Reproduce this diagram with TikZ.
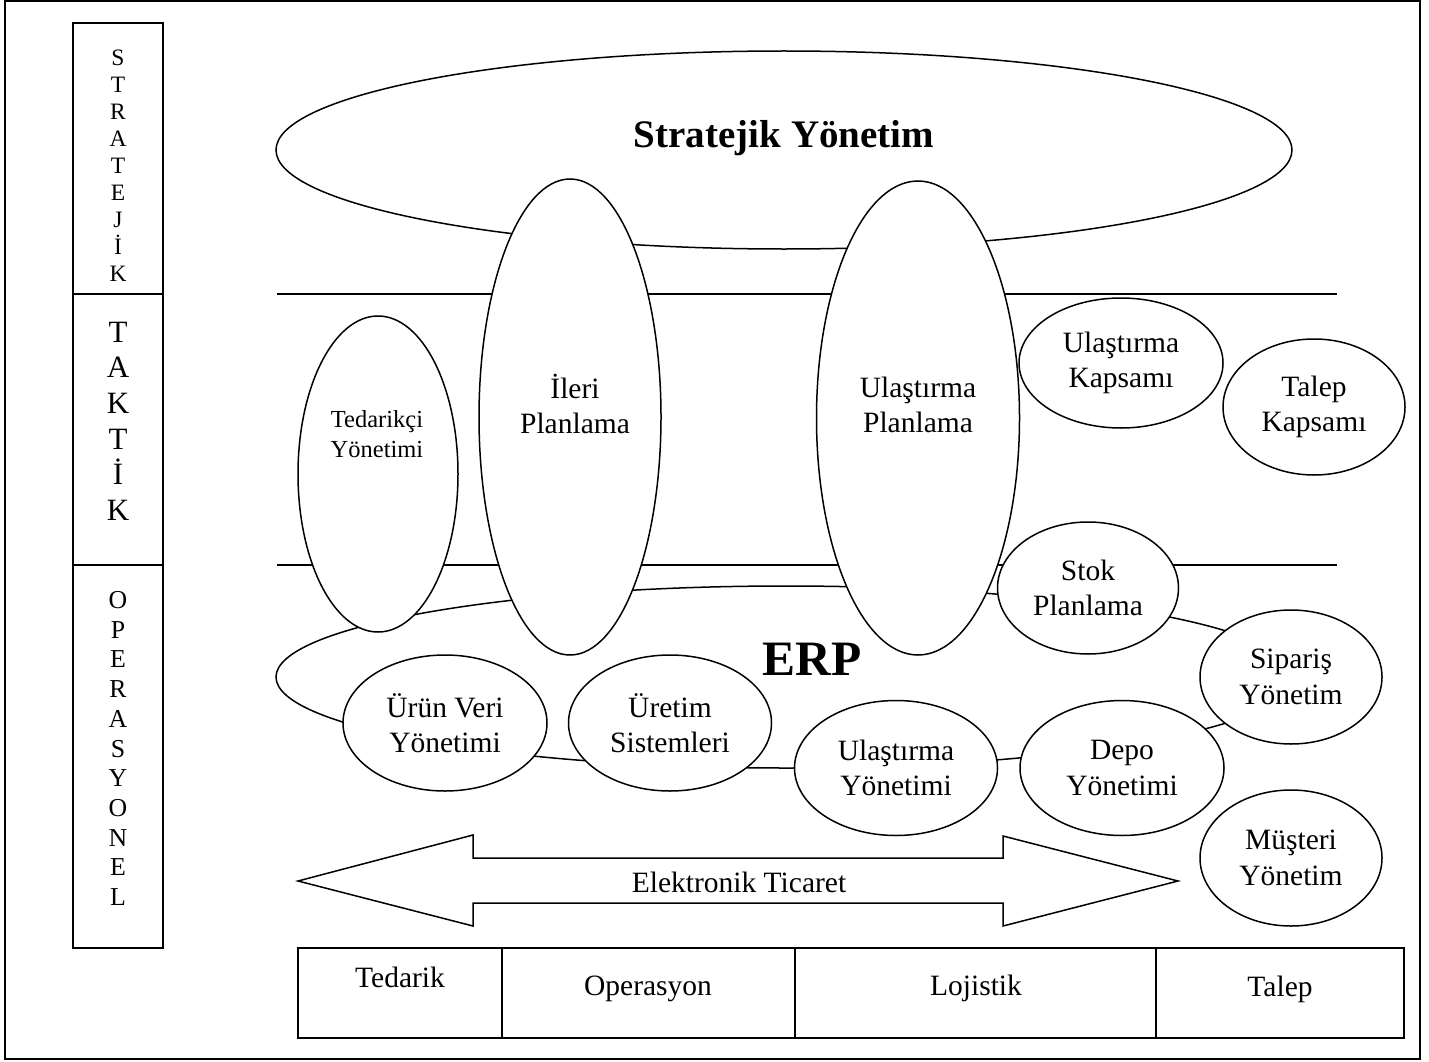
\documentclass[tikz,border=0pt]{standalone}
\usepackage{fontspec}
\setmainfont{Liberation Serif}
\usetikzlibrary{shapes.geometric,calc}
\begin{document}
\begin{tikzpicture}[x=1pt,y=-1pt,
  every node/.style={inner sep=0pt, outer sep=0pt},
  stroke/.style={line width=1.5pt},
  oval/.style={ellipse, draw, line width=1.5pt, fill=white, inner sep=0pt,
    align=center, font=\fontsize{29.5}{35.5}\selectfont},
  lbl/.style={align=center, font=\fontsize{29.5}{35.5}\selectfont},
  cell/.style={draw, line width=1.5pt, anchor=north west, minimum height=90pt},
  colbox/.style={draw, line width=1.5pt, anchor=north west, minimum width=90pt},
  letter/.style={anchor=base}
]
\useasboundingbox (0,0) rectangle (1429,1062);

% outer frame
\node[draw, line width=1.5pt, anchor=north west, minimum width=1415pt, minimum height=1058pt] (frame) at (5,1) {};

% level column on the left
\node[colbox, minimum height=271pt] (colS) at (73,23) {};
\node[colbox, minimum height=271pt] (colT) at (73,294) {};
\node[colbox, minimum height=383pt] (colO) at (73,565) {};
\foreach \ch [count=\i] in {S,T,R,A,T,E,J,İ,K}
  \node[letter, font=\fontsize{23.5}{23.5}\selectfont] (ls\i) at (118,{58+(\i-1)*26.9+7.8}) {\ch};
\foreach \ch [count=\i] in {T,A,K,T,İ,K}
  \node[letter, font=\fontsize{31}{31}\selectfont] (lt\i) at (118,{332+(\i-1)*35.6+10.3}) {\ch};
\foreach \ch [count=\i] in {O,P,E,R,A,S,Y,O,N,E,L}
  \node[letter, font=\fontsize{25.8}{25.8}\selectfont] (lo\i) at (118,{600+(\i-1)*29.7+8.5}) {\ch};

% level separators
\coordinate (h1a) at (277,294);
\coordinate (h1b) at (1337,294);
\coordinate (h2a) at (277,565);
\coordinate (h2b) at (1337,565);
\draw[stroke] (h1a) -- (h1b);
\draw[stroke] (h2a) -- (h2b);

% strategic level
\node[oval, minimum width=1016pt, minimum height=198pt] (strat) at (784,150) {};
\node[anchor=base, font=\bfseries\fontsize{39}{39}\selectfont] (strattxt) at (784,147) {Stratejik Yönetim};

% ERP ring
\node[oval, minimum width=1020pt, minimum height=182pt] (erp) at (786,677) {};

% tall planning ellipses
\node[oval, minimum width=160pt, minimum height=316pt] (ted) at (378,474) {};
\node[align=center, font=\fontsize{24.5}{30}\selectfont] (tedtxt) at (377,434) {Tedarikçi\\Yönetimi};
\node[oval, minimum width=182pt, minimum height=476pt] (ileri) at (570,417) {};
\node[lbl] (ileritxt) at (575,404) {İleri\\Planlama};
\node[oval, minimum width=203pt, minimum height=474pt] (ulp) at (918,418) {};
\node[lbl] (ulptxt) at (918,405) {Ulaştırma\\Planlama};

% tactical scopes
\node[oval, minimum width=204pt, minimum height=130pt] (ulk) at (1121,363) {Ulaştırma\\Kapsamı};
\node[oval, minimum width=182pt, minimum height=136pt] (tlk) at (1314,407) {Talep\\Kapsamı};

% operational modules
\node[oval, minimum width=181pt, minimum height=132pt] (stok) at (1088,588) {Stok\\Planlama};
\node[oval, minimum width=204pt, minimum height=136pt] (urun) at (445,723) {Ürün Veri\\Yönetimi};
\node[oval, minimum width=203pt, minimum height=136pt] (uret) at (670,723) {Üretim\\Sistemleri};
\node[oval, minimum width=203pt, minimum height=135pt] (uly) at (896,768) {Ulaştırma\\Yönetimi};
\node[oval, minimum width=204pt, minimum height=135pt] (depo) at (1122,768) {Depo\\Yönetimi};
\node[oval, minimum width=182pt, minimum height=134pt] (sip) at (1291,677) {Sipariş\\Yönetim};
\node[oval, minimum width=182pt, minimum height=136pt] (mus) at (1291,858) {Müşteri\\Yönetim};

\node[anchor=base, font=\bfseries\fontsize{49.5}{49.5}\selectfont] (erptxt) at (812,675) {ERP};

% electronic commerce double arrow
\coordinate (aL) at (298,881);
\coordinate (aL1) at (473,835);
\coordinate (aL2) at (473,858);
\coordinate (aR2) at (1003,858);
\coordinate (aR1) at (1003,836);
\coordinate (aR) at (1178,881);
\coordinate (aR3) at (1003,926);
\coordinate (aR4) at (1003,903);
\coordinate (aL4) at (473,903);
\coordinate (aL3) at (473,926);
\draw[stroke, fill=white, line join=miter] (aL) -- (aL1) -- (aL2) -- (aR2) -- (aR1) -- (aR)
  -- (aR3) -- (aR4) -- (aL4) -- (aL3) -- cycle;
\node[lbl, anchor=base] (ettxt) at (739,892) {Elektronik Ticaret};

% supply chain table
\node[cell, minimum width=204pt] (c1) at (298,948) {};
\node[cell, minimum width=293pt] (c2) at (502,948) {};
\node[cell, minimum width=361pt] (c3) at (795,948) {};
\node[cell, minimum width=248pt] (c4) at (1156,948) {};
\node[lbl, anchor=base] (t1) at (400,987) {Tedarik};
\node[lbl, anchor=base] (t2) at (648,995) {Operasyon};
\node[lbl, anchor=base] (t3) at (976,995) {Lojistik};
\node[lbl, anchor=base] (t4) at (1280,996) {Talep};
\end{tikzpicture}
\end{document}
